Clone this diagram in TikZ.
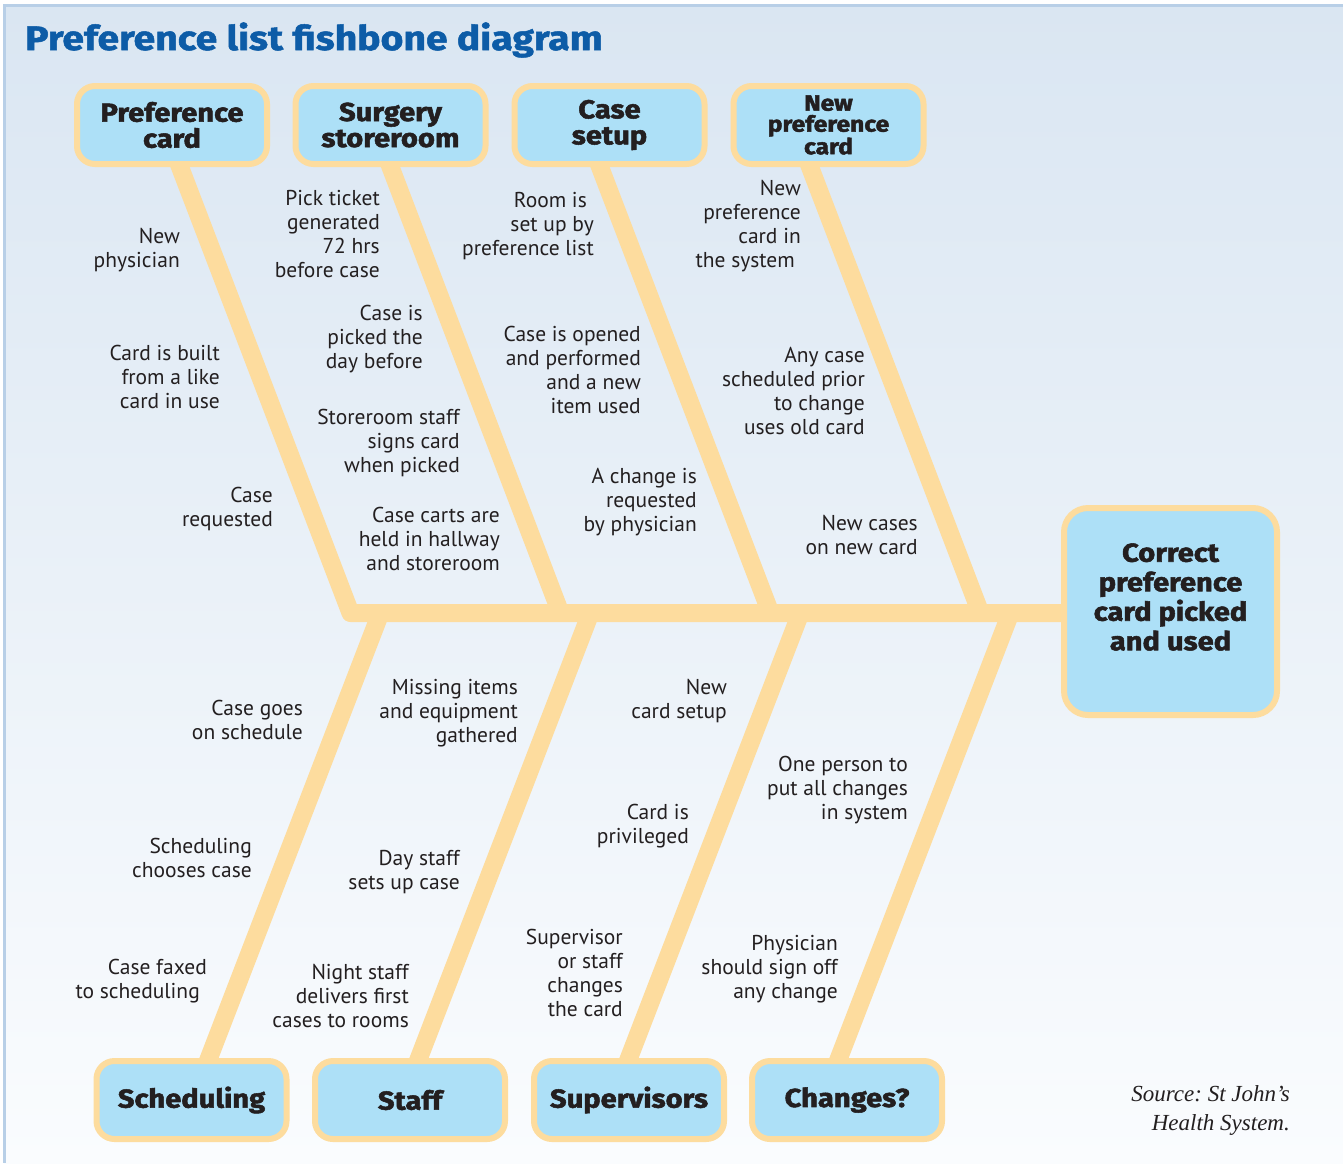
\documentclass[tikz,border=0pt]{standalone}
\usepackage{fontspec}
\setmainfont{PT Sans}
\newfontfamily\boxf{Fira Sans}[BoldFeatures={FakeBold=2,FakeStretch=1.12}]
\newfontfamily\titlef{Fira Sans}[BoldFeatures={FakeBold=1.5,FakeStretch=1.15}]
\newfontfamily\srcf{Liberation Serif}
\usetikzlibrary{calc}
\definecolor{bonec}{HTML}{FDDC9E}
\definecolor{boxfill}{HTML}{ADE0F7}
\definecolor{txt}{HTML}{231F20}
\definecolor{titlec}{HTML}{0D5CA7}
\definecolor{bgtop}{HTML}{DAE6F2}
\definecolor{bgbot}{HTML}{FAFCFE}
\definecolor{framec}{HTML}{B8CFE7}
\newcommand\trail[1]{\hbox to #1pt{}}
\pgfdeclarelayer{back}
\pgfdeclarelayer{bones}
\pgfsetlayers{back,bones,main}
\frenchspacing
\begin{document}
\begin{tikzpicture}[x=1pt,y=-1pt,
  bone/.style={draw=bonec,line width=18pt},
  cause/.style={draw=bonec,fill=boxfill,line width=6pt,rounded corners=18pt,
    minimum width=190pt,minimum height=78pt,align=center,text=txt,
    font=\boxf\bfseries\fontsize{26}{26}\selectfont,inner sep=0pt},
  lbl/.style={anchor=east,align=right,text=txt,font=\fontsize{21.5}{24}\selectfont,inner sep=0pt}]
\useasboundingbox (0,0) rectangle (1343,1163);
\begin{pgfonlayer}{back}
  \shade[top color=bgtop,bottom color=bgbot] (4,5) rectangle (1343,1163);
  \draw[framec,line width=3pt] (4,1163) -- (4,5) -- (1343,5);
\end{pgfonlayer}

% title
\node[anchor=west,text=titlec,font=\titlef\bfseries\fontsize{34}{34}\selectfont,inner sep=0pt] (title) at (25,40) {Preference list fishbone diagram};

% cause boxes
\node[cause] (c1) at (172,125) {Preference\\card};
\node[cause] (c2) at (390.5,125) {Surgery\\storeroom};
\node[cause] (c3) at (609.5,125) {Case\\setup};
\node[cause,font=\boxf\bfseries\fontsize{22}{21}\selectfont] (c4) at (828.5,125) {New\\preference\\card};
\node[cause] (d1) at (191.5,1100) {Scheduling};
\node[cause] (d2) at (410,1100) {Staff};
\node[cause] (d3) at (629,1100) {Supervisors};
\node[cause] (d4) at (847,1100) {Changes?};
\node[cause,minimum width=213pt,minimum height=207pt,rounded corners=24pt,
  font=\boxf\bfseries\fontsize{26}{29.5}\selectfont] (head) at (1170.5,611.5)
  {Correct\\preference\\card picked\\and used\\\mbox{}};

% spine points
\coordinate (s1) at (350.5,613);
\coordinate (u2) at (560.5,613);
\coordinate (u3) at (770.5,613);
\coordinate (u4) at (980.5,613);
\coordinate (l1) at (380.5,613);
\coordinate (l2) at (590.5,613);
\coordinate (l3) at (800.5,613);
\coordinate (l4) at (1010.5,613);

\begin{pgfonlayer}{bones}
  \draw[bone,line join=round,shorten <=-10pt] ([xshift=8pt]c1.south) -- (s1) -- (s1 -| head.west);
  \draw[bone,shorten <=-10pt] (c2.south) -- (u2);
  \draw[bone,shorten <=-10pt] ([xshift=-9.5pt]c3.south) -- (u3);
  \draw[bone,shorten <=-10pt] ([xshift=-18.5pt]c4.south) -- (u4);
  \draw[bone,shorten >=-10pt] (l1) -- ([xshift=17.5pt]d1.north);
  \draw[bone,shorten >=-10pt] (l2) -- ([xshift=9pt]d2.north);
  \draw[bone,shorten >=-10pt] (l3) -- (d3.north);
  \draw[bone,shorten >=-10pt] (l4) -- ([xshift=-8pt]d4.north);
\end{pgfonlayer}

% labels
\node[lbl] (t1) at (180,250) {New\\physician};
\node[lbl] (t2) at (220,377) {Card is built\\from a like\\card in use};
\node[lbl] (t3) at (273,509) {Case\\requested};
\node[lbl] (t4) at (380,234) {Pick ticket\\generated\\72 hrs\\before case};
\node[lbl] (t5) at (423,339) {Case is\\picked the\\day before};
\node[lbl] (t6) at (460,443) {Storeroom staff\\signs card\\when picked};
\node[lbl] (t7) at (500,539) {Case carts are\\held in hallway\\and storeroom};
\node[lbl] (t8) at (594,226) {Room is\trail{7}\\set up by\\preference list};
\node[lbl] (t9) at (641,370) {Case is opened\\and performed\\and a new\\item used};
\node[lbl] (t10) at (697,502) {A change is\\requested\\by physician};
\node[lbl] (t11) at (801,226) {New\\preference\\card in\\the system\trail{6}};
\node[lbl] (t12) at (865,391) {Any case\\scheduled prior\\to change\\uses old card};
\node[lbl] (t13) at (918,535) {New cases\\on new card};
\node[lbl] (t14) at (303,720) {Case goes\\on schedule};
\node[lbl] (t15) at (252,858) {Scheduling\\chooses case};
\node[lbl] (t16) at (207,981) {Case faxed\\to scheduling\trail{7}};
\node[lbl] (t17) at (518,713) {Missing items\\and equipment\\gathered};
\node[lbl] (t18) at (460,872) {Day staff\\sets up case};
\node[lbl] (t19) at (409,996) {Night staff\\delivers first\\cases to rooms};
\node[lbl] (t20) at (727,701) {New\\card setup};
\node[lbl] (t21) at (689,826) {Card is\\privileged};
\node[lbl] (t22) at (623,973) {Supervisor\\or staff\\changes\\the card};
\node[lbl] (t23) at (908,790) {One person to\\put all changes\\in system};
\node[lbl] (t24) at (838,969) {Physician\\should sign off\\any change};

% source
\node[anchor=east,align=right,text=txt,inner sep=0pt,
  font=\srcf\itshape\fontsize{23}{29}\selectfont] (src) at (1290,1110) {Source: St John’s\\Health System.};
\end{tikzpicture}
\end{document}
